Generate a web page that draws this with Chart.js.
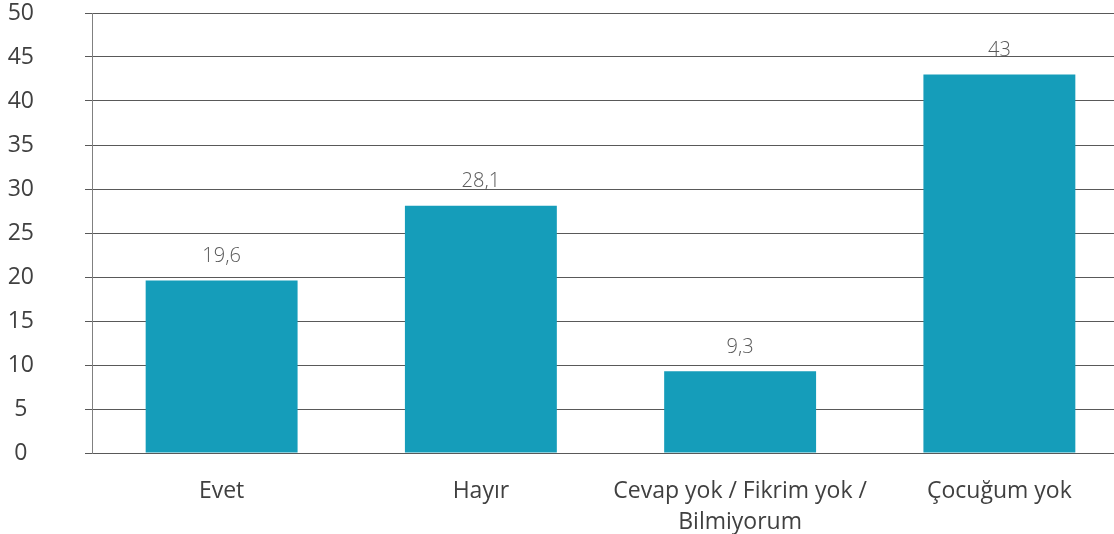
<!DOCTYPE html>
<html>
<head>
<meta charset="utf-8">
<script src="https://cdn.jsdelivr.net/npm/chart.js@4.4.1/dist/chart.umd.min.js"></script>
<style>
html,body{margin:0;padding:0;background:#fff;overflow:hidden;width:1114px;height:534px;}
#c{position:absolute;left:0;top:0;}
</style>
</head>
<body>
<canvas id="c" width="1129" height="534" style="width:1129px;height:534px;"></canvas>
<script>
const categories = ["Evet", "Hayır", ["Cevap yok / Fikrim yok /", "Bilmiyorum"], "Çocuğum yok"];
const values = [19.6, 28.1, 9.3, 43];
const valueLabels = ["19,6", "28,1", "9,3", "43"];

const labelPlugin = {
  id: 'valueLabels',
  afterDatasetsDraw(chart) {
    const ctx = chart.ctx;
    const meta = chart.getDatasetMeta(0);
    ctx.save();
    ctx.font = '300 20px "Open Sans"';
    ctx.fillStyle = '#595959';
    ctx.textAlign = 'center';
    ctx.textBaseline = 'middle';
    meta.data.forEach((bar, i) => {
      ctx.fillText(valueLabels[i], bar.x, bar.y - 24);
    });
    ctx.restore();
  }
};

new Chart(document.getElementById('c'), {
  type: 'bar',
  data: {
    labels: categories,
    datasets: [{
      data: values,
      backgroundColor: '#159dba',
      borderWidth: 0,
      barPercentage: 0.586,
      categoryPercentage: 1.0
    }]
  },
  options: {
    responsive: false,
    animation: false,
    devicePixelRatio: 1,
    layout: { padding: { top: 13, bottom: 0, left: 0, right: 0 } },
    plugins: { legend: { display: false }, tooltip: { enabled: false }, title: { display: false } },
    scales: {
      x: {
        afterFit(scale) { scale.height = 81; },
        grid: { display: false },
        border: { display: true, color: '#595959', width: 1 },
        ticks: {
          color: '#404040',
          font: { family: '"Open Sans"', size: 23, lineHeight: 1.35 },
          padding: 15,
          maxRotation: 0,
          autoSkip: false
        }
      },
      y: {
        min: 0,
        max: 50,
        afterFit(scale) { scale.width = 92; scale.paddingTop = 0; scale.paddingBottom = 0; },
        grid: { color: '#595959', lineWidth: 1, tickLength: 7, drawTicks: true },
        border: { display: true, color: '#808080', width: 1 },
        ticks: {
          stepSize: 5,
          color: '#404040',
          font: { family: '"Open Sans"', size: 23 },
          crossAlign: 'center',
          padding: 51
        }
      }
    }
  },
  plugins: [labelPlugin]
});
</script>
</body>
</html>
